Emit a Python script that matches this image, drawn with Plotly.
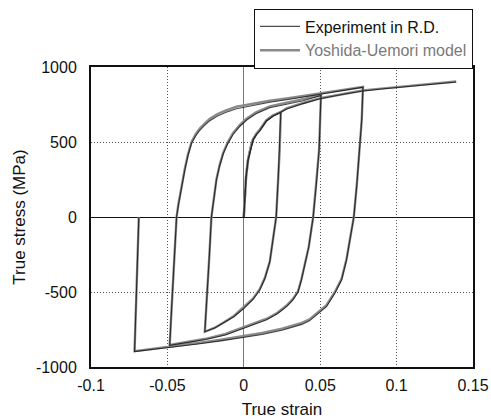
import plotly.graph_objects as go

# ---- data ----
x_ticks = [-0.1, -0.05, 0, 0.05, 0.1, 0.15]
x_tick_labels = ["-0.1", "-0.05", "0", "0.05", "0.1", "0.15"]
y_ticks = [-1000, -500, 0, 500, 1000]
y_tick_labels = ["-1000", "-500", "0", "500", "1000"]

# Experiment in R.D. : cyclic path (load -> reverse -> ... -> final unload)
exp_cyc_strain = [
    0, 0.0008, 0.0015, 0.0028, 0.0045, 0.0061, 0.0083, 0.0105, 0.0148, 0.019, 0.0242,
    0.0235, 0.0225, 0.0212, 0.0195, 0.017, 0.0138, 0.0105, 0.006, 0.0, -0.0065, -0.0135, -0.019, -0.0255,
    -0.0238, -0.0225, -0.0212, -0.0196, -0.0179, -0.0158, -0.0135, -0.0105, -0.007, -0.0025, 0.0017, 0.008, 0.017, 0.028, 0.0388, 0.0505,
    0.0493, 0.0475, 0.0454, 0.0425, 0.0395, 0.0377, 0.0355, 0.032, 0.028, 0.022, 0.015, 0.004, -0.0026, -0.012, -0.025, -0.037, -0.0485,
    -0.0472, -0.046, -0.0448, -0.044, -0.0428, -0.0419, -0.0403, -0.0386, -0.0365, -0.0342, -0.0315, -0.0288, -0.0255, -0.0222, -0.0175, -0.012, -0.0048, 0.005, 0.017, 0.028, 0.0388, 0.05, 0.065, 0.078,
    0.0772, 0.0759, 0.074, 0.072, 0.0695, 0.0672, 0.064, 0.0596, 0.0541, 0.047, 0.043, 0.038, 0.025, 0.012, 0.0, -0.015, -0.03, -0.048, -0.06, -0.0715,
    -0.0687]
exp_cyc_stress = [
    0, 150, 270, 380, 460, 513, 550, 575, 640, 672, 698,
    450, 250, 0, -120, -300, -410, -487, -550, -610, -665, -709, -740, -765,
    -500, -250, 0, 130, 247, 340, 420, 490, 550, 605, 645, 688, 728, 752, 775, 810,
    450, 220, 0, -200, -350, -420, -500, -555, -598, -645, -685, -725, -752, -787, -817, -838, -855,
    -600, -350, -150, 0, 80, 135, 230, 313, 410, 491, 540, 578, 612, 642, 672, 697, 722, 742, 765, 782, 800, 818, 842, 865,
    650, 447, 220, 0, -160, -287, -420, -509, -598, -662, -692, -716, -755, -783, -803, -826, -847, -870, -883, -897,
    0]
exp_mono_strain = [0, 0.0008, 0.0015, 0.0028, 0.0045, 0.0061, 0.0083, 0.0105, 0.0148, 0.019, 0.0242, 0.028, 0.0388, 0.05, 0.065, 0.078, 0.09, 0.1, 0.12, 0.139]
exp_mono_stress = [0, 150, 270, 380, 460, 513, 550, 575, 640, 672, 698, 720, 756, 788, 818, 840, 853, 862, 882, 900]

# Yoshida-Uemori model : same loading path
mod_cyc_strain = list(exp_cyc_strain)
mod_cyc_stress = [
    0, 150, 270, 382, 465, 518, 556, 582, 645, 677, 700,
    450, 250, 0, -120, -298, -405, -480, -545, -603, -660, -705, -738, -765,
    -500, -250, 0, 135, 252, 348, 428, 498, 560, 615, 655, 698, 738, 762, 785, 812,
    450, 220, 0, -200, -345, -415, -495, -548, -590, -638, -678, -718, -745, -780, -812, -834, -853,
    -600, -350, -150, 0, 85, 140, 238, 322, 420, 500, 552, 590, 625, 655, 685, 710, 736, 755, 775, 790, 806, 822, 845, 867,
    650, 447, 220, 0, -160, -282, -412, -500, -588, -652, -682, -706, -745, -773, -795, -818, -840, -864, -879, -894,
    0]
mod_mono_strain = list(exp_mono_strain)
mod_mono_stress = [0, 150, 270, 382, 465, 518, 556, 582, 645, 677, 700, 724, 760, 792, 822, 843, 856, 866, 885, 903]

FONT = "Liberation Sans, Arial, sans-serif"

fig = go.Figure()
fig.add_trace(go.Scatter(x=mod_cyc_strain + [None] + mod_mono_strain,
                         y=mod_cyc_stress + [None] + mod_mono_stress,
                         mode="lines", legendrank=2,
                         name='<span style="color:#7a7a7a">Yoshida-Uemori model</span>',
                         line=dict(color="#8a8a8a", width=2.4)))
fig.add_trace(go.Scatter(x=exp_cyc_strain + [None] + exp_mono_strain,
                         y=exp_cyc_stress + [None] + exp_mono_stress,
                         mode="lines", name="Experiment in R.D.", legendrank=1,
                         opacity=0.7,
                         line=dict(color="#000000", width=1.1)))

axis_common = dict(showline=True, linecolor="#111111", linewidth=2, mirror=True,
                   showgrid=True, gridcolor="#555555", griddash="1px,2px", gridwidth=1,
                   ticks="", zeroline=True, zerolinewidth=1.2, automargin=False,
                   tickfont=dict(family=FONT, size=16, color="#111111"))

fig.update_layout(
    template="none",
    width=491, height=419,
    margin=dict(l=91, r=18, t=67, b=52, autoexpand=False),
    paper_bgcolor="white", plot_bgcolor="white",
    font=dict(family=FONT, size=16, color="#111111"),
    xaxis=dict(range=[-0.1, 0.15], tickvals=x_ticks, ticktext=x_tick_labels,
               zerolinecolor="#777777", ticklabelstandoff=3,
               title=dict(text="True strain", font=dict(family=FONT, size=17), standoff=12),
               **axis_common),
    yaxis=dict(range=[-1000, 1000], tickvals=y_ticks, ticktext=y_tick_labels,
               zerolinecolor="#111111", ticklabelstandoff=9,
               title=dict(text="True stress (MPa)", font=dict(family=FONT, size=17), standoff=6),
               **axis_common),
    legend=dict(x=1, xanchor="right", y=1.195, yanchor="top",
                bgcolor="white", bordercolor="#111111", borderwidth=1,
                itemwidth=40,
                font=dict(family=FONT, size=16, color="#111111"),
                tracegroupgap=0),
    showlegend=True,
)

# remove the page's default body margin so the figure fills the window exactly
fig.write_html("out.html",
               config={"displayModeBar": False},
               post_script="document.body.style.margin='0';document.body.style.overflow='hidden';")
